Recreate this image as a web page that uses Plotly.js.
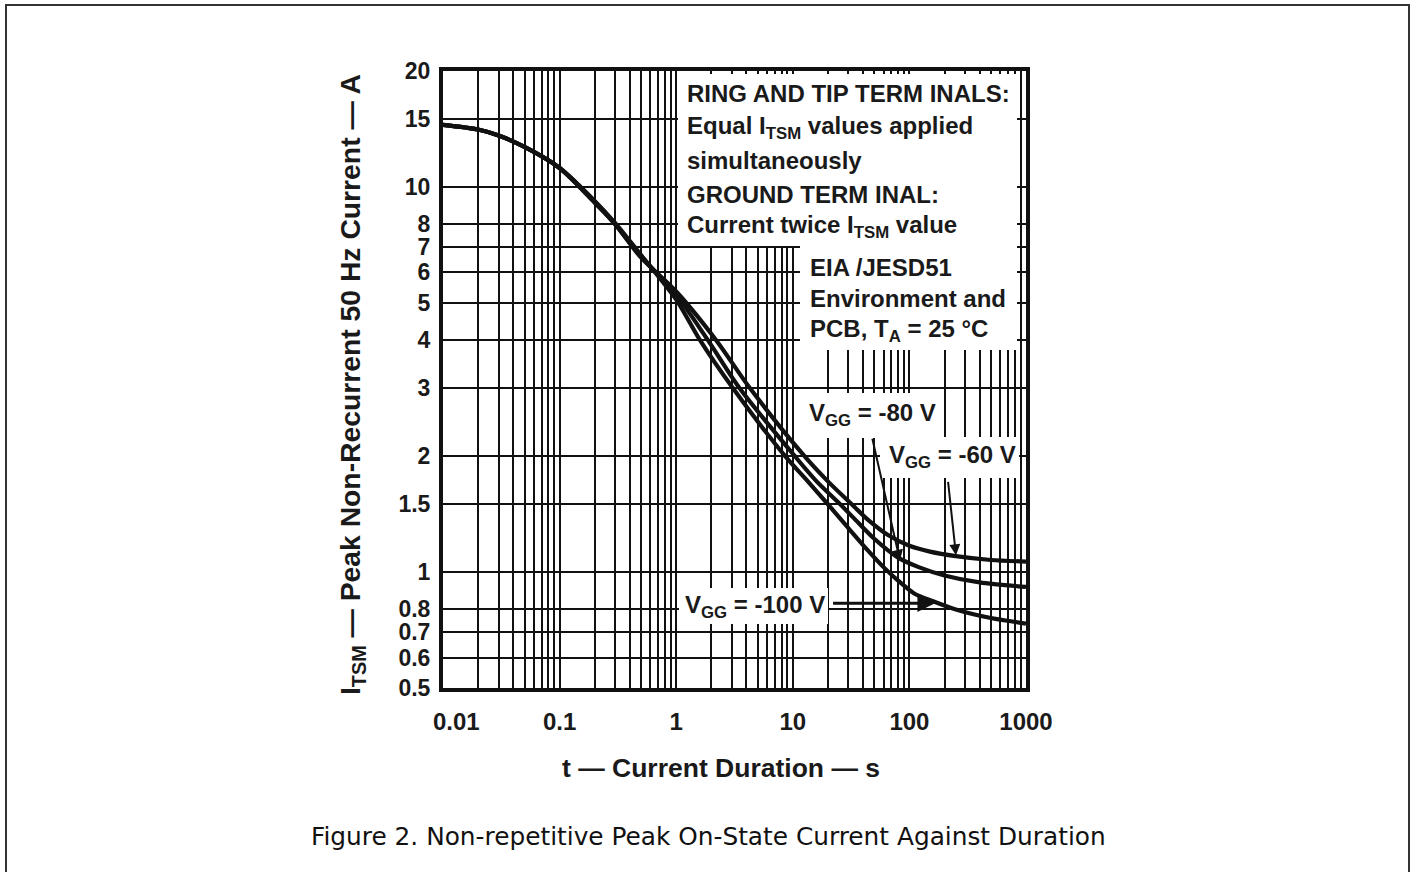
<!DOCTYPE html>
<html>
<head>
<meta charset="utf-8">
<script src="https://cdn.plot.ly/plotly-3.0.1.min.js"></script>
<style>
html,body{margin:0;padding:0;background:#fff;}
#chart{width:1415px;height:872px;}
</style>
</head>
<body>
<div id="chart"></div>
<script>
// ---- data ----
const t60  = [0.01,0.02,0.03,0.05,0.1,0.2,0.3,0.5,1,2.2,4.3,12.6,20,32,45,65,100,150,250,500,1000];
const i60  = [14.5,14.1,13.6,12.7,11.2,9.1,8.0,6.55,5.35,4.0,3.0,2.0,1.72,1.5,1.36,1.25,1.17,1.13,1.1,1.075,1.065];
const t80  = [0.01,0.02,0.03,0.05,0.1,0.2,0.3,0.5,1,1.87,3.5,10.4,16,25.5,35,50,80,120,200,400,1000];
const i80  = [14.5,14.1,13.6,12.7,11.2,9.15,8.0,6.6,5.25,4.0,3.0,2.0,1.72,1.5,1.36,1.22,1.09,1.03,0.98,0.94,0.915];
const t100 = [0.01,0.02,0.03,0.05,0.1,0.2,0.3,0.5,1,1.6,3.07,8.6,13,20,30,45,60,80,110,160,250,500,1000];
const i100 = [14.5,14.1,13.6,12.7,11.2,9.2,8.05,6.65,5.1,4.0,3.0,2.0,1.74,1.5,1.3,1.13,1.03,0.95,0.88,0.84,0.8,0.76,0.735];

const xGridVals = [0.01,0.02,0.03,0.04,0.05,0.06,0.07,0.08,0.09,
                   0.1,0.2,0.3,0.4,0.5,0.6,0.7,0.8,0.9,
                   1,2,3,4,5,6,7,8,9,
                   10,20,30,40,50,60,70,80,90,
                   100,200,300,400,500,600,700,800,900,1000];
const xLabelVals = [0.01,0.1,1,10,100,1000];
const xLabelText = ["\u00a0\u00a0\u00a0\u00a00.01","0.1","1","10","100","1000"];
const yTickVals = [0.5,0.6,0.7,0.8,1,1.5,2,3,4,5,6,7,8,10,15,20];
const yTickText = ["0.5","0.6","0.7","0.8","1","1.5","2","3","4","5","6","7","8","10","15","20"];

// ---- layout helpers (pixel -> paper, plot area 443..1026 x 71..688) ----
const L = 443, R = 1026, T = 71, B = 688;
const px = v => (v - L) / (R - L);
const py = v => (B - v) / (B - T);
const lg = Math.log10;

const xTickText = xGridVals.map(v => {
  const k = xLabelVals.indexOf(v);
  return k >= 0 ? xLabelText[k] : "";
});

const FONT = "Liberation Sans, Arial, Helvetica, sans-serif";
const curveLine = {color: "#111", width: 4.2, shape: "spline", smoothing: 0.8};

const traces = [
  {x: t60, y: i60, mode: "lines", name: "VGG = -60 V", line: curveLine, hoverinfo: "x+y"},
  {x: t80, y: i80, mode: "lines", name: "VGG = -80 V", line: curveLine, hoverinfo: "x+y"},
  {x: t100, y: i100, mode: "lines", name: "VGG = -100 V", line: curveLine, hoverinfo: "x+y"}
];

function txt(text, x, y, size, extra) {
  return Object.assign({
    text: text, xref: "paper", yref: "paper", x: px(x), y: py(y),
    xanchor: "left", yanchor: "middle", showarrow: false,
    font: {family: FONT, size: size, color: "#1a1a1a", weight: "bold"}
  }, extra || {});
}
function arrow(tipT, tipI, tailT, tailI, w) {
  return {
    text: "", xref: "x", yref: "y", axref: "x", ayref: "y",
    x: lg(tipT), y: lg(tipI), ax: lg(tailT), ay: lg(tailI),
    showarrow: true, arrowhead: 2, arrowsize: 1.1, arrowwidth: w || 2,
    arrowcolor: "#111", standoff: 0
  };
}

const annotations = [
  txt("RING AND TIP TERM INALS:", 685, 94, 24),
  txt("Equal I<sub>TSM</sub> values applied", 685, 127, 24),
  txt("simultaneously", 685, 160, 24),
  txt("GROUND TERM INAL:", 685, 194, 24),
  txt("Current twice I<sub>TSM</sub> value", 685, 227, 24),
  txt("EIA /JESD51", 808, 267, 24),
  txt("Environment and", 808, 298, 24),
  txt("PCB, T<sub>A</sub> = 25 °C", 808, 330, 24),
  txt("V<sub>GG</sub> = -80 V", 807, 414, 24),
  txt("V<sub>GG</sub> = -60 V", 887, 456, 24),
  txt("V<sub>GG</sub> = -100 V", 683, 606, 24),
  arrow(83, 1.07, 47.8, 2.24, 2),
  arrow(251, 1.105, 214, 1.73, 2),
  arrow(166, 0.83, 21.5, 0.83, 3.2),
  // axis titles
  txt("t — Current Duration — s", 721, 768, 26.5, {xanchor: "center"}),
  txt("I<sub>TSM</sub> — Peak Non-Recurrent 50 Hz Current — A", 352, 385, 28.3,
      {xanchor: "center", textangle: -90}),
  {
    text: "Figure 2. Non-repetitive Peak On-State Current Against Duration",
    xref: "paper", yref: "paper", x: px(708), y: py(836),
    xanchor: "center", yanchor: "middle", showarrow: false,
    font: {family: "DejaVu Sans, Liberation Sans, Arial, sans-serif", size: 24.8, color: "#111"}
  }
];

const shapes = [
  // white label backgrounds covering the grid
  {type: "rect", xref: "paper", yref: "paper", x0: px(678), x1: px(1017), y0: py(246), y1: py(74),
   fillcolor: "#fff", line: {width: 0}, layer: "above"},
  {type: "rect", xref: "paper", yref: "paper", x0: px(800), x1: px(1017), y0: py(350), y1: py(246),
   fillcolor: "#fff", line: {width: 0}, layer: "above"},
  {type: "rect", xref: "paper", yref: "paper", x0: px(804), x1: px(936), y0: py(438), y1: py(393),
   fillcolor: "#fff", line: {width: 0}, layer: "above"},
  {type: "rect", xref: "paper", yref: "paper", x0: px(880), x1: px(1019), y0: py(478), y1: py(437),
   fillcolor: "#fff", line: {width: 0}, layer: "above"},
  {type: "rect", xref: "paper", yref: "paper", x0: px(679), x1: px(828), y0: py(624), y1: py(588),
   fillcolor: "#fff", line: {width: 0}, layer: "above"},
  // outer figure frame
  {type: "rect", xref: "paper", yref: "paper", x0: px(6), x1: px(1409), y0: py(900), y1: py(5),
   fillcolor: "rgba(0,0,0,0)", line: {color: "#333", width: 2}, layer: "above"}
];

const layout = {
  width: 1415, height: 872, autosize: false,
  margin: {l: L, r: 1415 - R, t: T, b: 872 - B, pad: 0},
  paper_bgcolor: "#fff", plot_bgcolor: "#fff",
  showlegend: false,
  font: {family: FONT, color: "#1a1a1a"},
  xaxis: {
    type: "log", range: [lg(0.01), lg(1000)],
    tickmode: "array", tickvals: xGridVals, ticktext: xTickText,
    showgrid: true, gridcolor: "#111", gridwidth: 2,
    showline: true, linecolor: "#111", linewidth: 4, mirror: true,
    ticks: "outside", ticklen: 9, tickcolor: "rgba(0,0,0,0)",
    zeroline: false,
    tickfont: {family: FONT, size: 24, color: "#1a1a1a", weight: "bold"}
  },
  yaxis: {
    type: "log", range: [lg(0.5), lg(20)],
    tickmode: "array", tickvals: yTickVals, ticktext: yTickText,
    showgrid: true, gridcolor: "#111", gridwidth: 2,
    showline: true, linecolor: "#111", linewidth: 4, mirror: true,
    ticks: "outside", ticklen: 4, tickcolor: "rgba(0,0,0,0)",
    zeroline: false,
    tickfont: {family: FONT, size: 23, color: "#1a1a1a", weight: "bold"}
  },
  shapes: shapes,
  annotations: annotations
};

Plotly.newPlot("chart", traces, layout, {staticPlot: true, displayModeBar: false});
</script>
</body>
</html>
